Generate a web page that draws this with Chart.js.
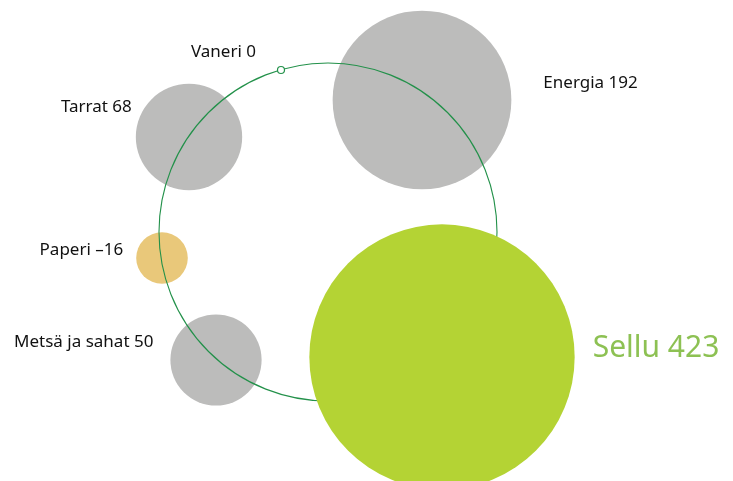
<!DOCTYPE html>
<html lang="fi">
<head>
  <meta charset="UTF-8" />
  <title>Liikevoitto segmenteittäin</title>
  <script src="https://cdn.jsdelivr.net/npm/chart.js"></script>
  <style>
    body {
      margin: 0;
      background: #ffffff;
    }
    #wrap {
      width: 733px;
      height: 481px;
    }
  </style>
</head>
<body>
  <div id="wrap"><canvas id="bubbleCanvas" width="733" height="481"></canvas></div>

  <script>
    const segments = ["Vaneri", "Tarrat", "Energia", "Paperi", "Metsä ja sahat", "Sellu"];
    const profits = [0, 68, 192, -16, 50, 423];
    // bubble centres, in the chart's own 0..733 / 0..481 units
    const centerX = [281, 189, 422, 162, 216, 442];
    const centerY = [70, 137, 100, 258, 360, 357];

    const ringCenter = { x: 328, y: 232 };
    const ringRadius = 169;
    const scaleK = 6.45; // px per sqrt(value)

    const GREY = "#bcbcbb";
    const ORANGE = "#e9c87a";
    const LIME = "#b4d334";
    const RING = "#23914a";

    function radiusOf(v) {
      return v === 0 ? 3.5 : scaleK * Math.sqrt(Math.abs(v));
    }
    function colourOf(i) {
      if (segments[i] === "Sellu") return LIME;
      if (profits[i] < 0) return ORANGE;
      return GREY;
    }

    const points = segments.map((s, i) => ({ x: centerX[i], y: centerY[i], r: radiusOf(profits[i]), i }));
    const topIdx = [0, 5]; // Vaneri marker and Sellu sit above the ring
    const topPoints = points.filter(p => topIdx.includes(p.i));
    const lowPoints = points.filter(p => !topIdx.includes(p.i));

    // label placement relative to each bubble: side, gap and vertical shift
    const labelPlace = [
      { side: "topleft", dx: -25, dy: -18 },
      { side: "left", dx: -4, dy: -30 },
      { side: "right", dx: 32, dy: -17 },
      { side: "left", dx: -13, dy: -8 },
      { side: "left", dx: -17, dy: -18 },
      { side: "right", dx: 18, dy: -9 }
    ];

    const labelPlugin = {
      id: "bubbleLabels",
      afterDatasetsDraw(chart) {
        const ctx = chart.ctx;
        const xs = chart.scales.x, ys = chart.scales.y;
        ctx.save();
        ctx.textBaseline = "middle";
        points.forEach(p => {
          const px = xs.getPixelForValue(p.x);
          const py = ys.getPixelForValue(p.y);
          const pl = labelPlace[p.i];
          const value = profits[p.i] < 0 ? "\u2013" + Math.abs(profits[p.i]) : String(profits[p.i]);
          const text = segments[p.i] + " " + value;
          const big = segments[p.i] === "Sellu";
          ctx.font = big ? "30px 'Noto Sans'" : "17px 'Noto Sans'";
          ctx.fillStyle = big ? "#8dc153" : "#111111";
          let x;
          if (pl.side === "right") {
            ctx.textAlign = "left";
            x = px + p.r + pl.dx;
          } else if (pl.side === "left") {
            ctx.textAlign = "right";
            x = px - p.r + pl.dx;
          } else {
            ctx.textAlign = "right";
            x = px + pl.dx;
          }
          ctx.fillText(text, x, py + pl.dy);
        });
        ctx.restore();
      }
    };

    new Chart(document.getElementById("bubbleCanvas"), {
      type: "bubble",
      data: {
        datasets: [
          {
            label: "top",
            order: 0,
            data: topPoints,
            backgroundColor: topPoints.map(p => profits[p.i] === 0 ? "#ffffff" : colourOf(p.i)),
            borderColor: topPoints.map(p => profits[p.i] === 0 ? RING : colourOf(p.i)),
            borderWidth: topPoints.map(p => profits[p.i] === 0 ? 1.2 : 0)
          },
          {
            label: "ring",
            order: 1,
            data: [{ x: ringCenter.x, y: ringCenter.y, r: ringRadius }],
            backgroundColor: "rgba(0,0,0,0)",
            borderColor: RING,
            borderWidth: 1.1
          },
          {
            label: "segments",
            order: 2,
            data: lowPoints,
            backgroundColor: lowPoints.map(p => colourOf(p.i)),
            borderWidth: 0
          }
        ]
      },
      plugins: [labelPlugin],
      options: {
        responsive: false,
        animation: false,
        events: [],
        layout: { padding: 0, autoPadding: false },
        plugins: {
          legend: { display: false },
          tooltip: { enabled: false }
        },
        scales: {
          x: { type: "linear", min: 0, max: 733, display: false },
          y: { type: "linear", min: 0, max: 481, reverse: true, display: false }
        }
      }
    });
  </script>
</body>
</html>
